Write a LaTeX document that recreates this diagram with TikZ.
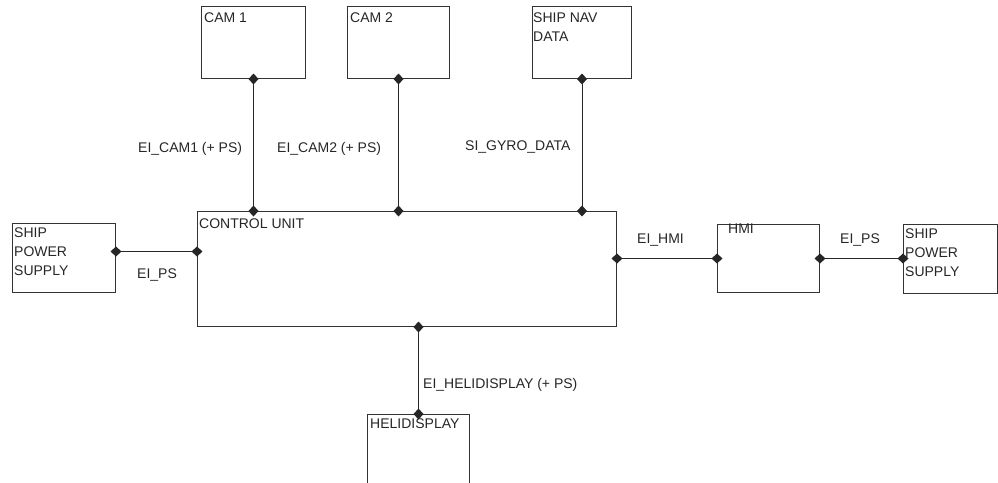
\documentclass[tikz,border=0pt]{standalone}
\usepackage{fontspec}
\setmainfont{Liberation Sans}
\usetikzlibrary{arrows.meta}
\tikzset{blk/.style={draw=black!80, line width=1pt, rectangle, inner sep=0pt, anchor=north west},
         txt/.style={font=\fontsize{14}{19}\selectfont, inner sep=0pt, anchor=base west, align=left, text=black!85},
         lnk/.style={draw=black!85, line width=1pt, {Diamond[length=11pt,width=10pt]}-{Diamond[length=11pt,width=10pt]}, shorten <=-5.5pt, shorten >=-5.5pt}}

\begin{document}
\begin{tikzpicture}[x=1pt,y=-1pt]
\useasboundingbox (0,0) rectangle (998,482);
\clip (0,0) rectangle (998,482);
\node[blk, minimum width=103pt, minimum height=69pt] (lps) at (12,223) {};
\node[blk, minimum width=104pt, minimum height=72pt] (cam1) at (201,6) {};
\node[blk, minimum width=102pt, minimum height=72pt] (cam2) at (347,6) {};
\node[blk, minimum width=99pt, minimum height=72pt] (nav) at (532,6) {};
\node[blk, minimum width=419pt, minimum height=115pt] (cu) at (197,211) {};
\node[blk, minimum width=102pt, minimum height=68pt] (hmi) at (717,224) {};
\node[blk, minimum width=94pt, minimum height=69pt] (rps) at (903,224) {};
\node[blk, minimum width=102pt, minimum height=90pt] (heli) at (367,414) {};
\node[txt] (lps-t) at (14,275) {SHIP\\POWER\\SUPPLY};
\node[txt] (cam1-t) at (204,22) {CAM 1};
\node[txt] (cam2-t) at (350,22) {CAM 2};
\node[txt] (nav-t) at (533,41) {SHIP NAV\\DATA};
\node[txt] (cu-t) at (199,228) {CONTROL UNIT};
\node[txt] (hmi-t) at (728,233) {HMI};
\node[txt] (rps-t) at (905,276) {SHIP\\POWER\\SUPPLY};
\node[txt] (heli-t) at (370,428) {HELIDISPLAY};
\draw[lnk] (cam1.south) -- (cam1.south |- cu.north);
\draw[lnk] (cam2.south) -- (cam2.south |- cu.north);
\draw[lnk] (nav.south) -- (nav.south |- cu.north);
\draw[lnk] ([yshift=6.5pt]lps.east) -- ([yshift=6.5pt]lps.east -| cu.west);
\draw[lnk] (cu.east |- hmi.west) -- (hmi.west);
\draw[lnk] (hmi.east) -- (hmi.east -| rps.west);
\draw[lnk] (heli.north |- cu.south) -- (heli.north);
\node[txt] (cam1-l) at (138,152) {EI\_CAM1 (+ PS)};
\node[txt] (cam2-l) at (277,152) {EI\_CAM2 (+ PS)};
\node[txt] (nav-l) at (465,150) {SI\_GYRO\_DATA};
\node[txt] (lps-l) at (137,278) {EI\_PS};
\node[txt] (hmi-l) at (637,243) {EI\_HMI};
\node[txt] (rps-l) at (840,243) {EI\_PS};
\node[txt] (heli-l) at (423,388) {EI\_HELIDISPLAY (+ PS)};
\end{tikzpicture}
\end{document}
